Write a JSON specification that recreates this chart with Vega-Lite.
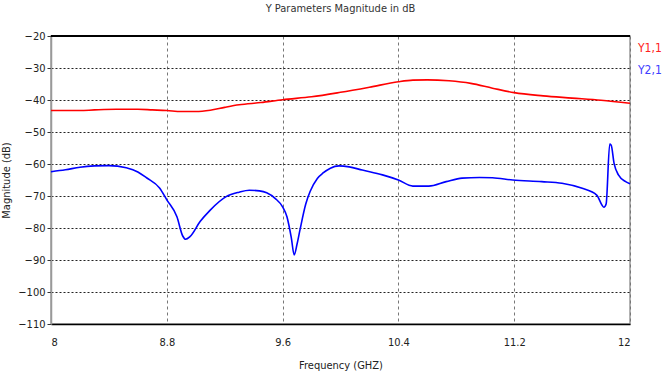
{
  "$schema": "https://vega.github.io/schema/vega-lite/v6.json",
  "autosize": "none",
  "width": 579,
  "height": 288,
  "padding": {"left": 51, "top": 36, "right": 42, "bottom": 50},
  "background": "white",
  "config": {
    "font": "DejaVu Sans Condensed",
    "view": {"stroke": "#999", "strokeWidth": 1.5},
    "axis": {"labelFont": "DejaVu Sans Condensed", "titleFont": "DejaVu Sans Condensed", "labelColor": "#222", "titleColor": "#222", "labelFontSize": 11, "titleFontSize": 11, "titleFontWeight": "normal", "labelOverlap": false}
  },
  "title": {"text": "Y Parameters Magnitude in dB", "fontSize": 11, "fontWeight": "normal", "color": "#333", "offset": 16, "anchor": "middle", "font": "DejaVu Sans Condensed"},
  "data": {"values": [
    {"f": 8.0, "db": -43.3, "s": "Y1,1"},
    {"f": 8.2, "db": -43.3, "s": "Y1,1"},
    {"f": 8.3, "db": -43.1, "s": "Y1,1"},
    {"f": 8.45, "db": -42.9, "s": "Y1,1"},
    {"f": 8.6, "db": -42.9, "s": "Y1,1"},
    {"f": 8.7, "db": -43.1, "s": "Y1,1"},
    {"f": 8.8, "db": -43.3, "s": "Y1,1"},
    {"f": 8.9, "db": -43.6, "s": "Y1,1"},
    {"f": 9.0, "db": -43.6, "s": "Y1,1"},
    {"f": 9.1, "db": -43.2, "s": "Y1,1"},
    {"f": 9.2, "db": -42.3, "s": "Y1,1"},
    {"f": 9.3, "db": -41.5, "s": "Y1,1"},
    {"f": 9.45, "db": -40.8, "s": "Y1,1"},
    {"f": 9.6, "db": -39.9, "s": "Y1,1"},
    {"f": 9.8, "db": -39.0, "s": "Y1,1"},
    {"f": 10.0, "db": -37.6, "s": "Y1,1"},
    {"f": 10.2, "db": -36.0, "s": "Y1,1"},
    {"f": 10.4, "db": -34.3, "s": "Y1,1"},
    {"f": 10.5, "db": -33.8, "s": "Y1,1"},
    {"f": 10.6, "db": -33.7, "s": "Y1,1"},
    {"f": 10.75, "db": -34.0, "s": "Y1,1"},
    {"f": 10.9, "db": -34.8, "s": "Y1,1"},
    {"f": 11.05, "db": -36.3, "s": "Y1,1"},
    {"f": 11.2, "db": -37.7, "s": "Y1,1"},
    {"f": 11.4, "db": -38.7, "s": "Y1,1"},
    {"f": 11.6, "db": -39.4, "s": "Y1,1"},
    {"f": 11.8, "db": -40.1, "s": "Y1,1"},
    {"f": 12.0, "db": -41.0, "s": "Y1,1"},
    {"f": 8.0, "db": -62.4, "s": "Y2,1"},
    {"f": 8.1, "db": -61.8, "s": "Y2,1"},
    {"f": 8.2, "db": -61.0, "s": "Y2,1"},
    {"f": 8.3, "db": -60.6, "s": "Y2,1"},
    {"f": 8.4, "db": -60.5, "s": "Y2,1"},
    {"f": 8.52, "db": -61.2, "s": "Y2,1"},
    {"f": 8.6, "db": -62.5, "s": "Y2,1"},
    {"f": 8.66, "db": -64.3, "s": "Y2,1"},
    {"f": 8.75, "db": -67.5, "s": "Y2,1"},
    {"f": 8.8, "db": -71.2, "s": "Y2,1"},
    {"f": 8.87, "db": -76.5, "s": "Y2,1"},
    {"f": 8.91, "db": -82.5, "s": "Y2,1"},
    {"f": 8.93, "db": -83.5, "s": "Y2,1"},
    {"f": 8.96, "db": -82.7, "s": "Y2,1"},
    {"f": 9.03, "db": -78.0, "s": "Y2,1"},
    {"f": 9.1, "db": -74.4, "s": "Y2,1"},
    {"f": 9.21, "db": -70.2, "s": "Y2,1"},
    {"f": 9.3, "db": -68.8, "s": "Y2,1"},
    {"f": 9.37, "db": -68.2, "s": "Y2,1"},
    {"f": 9.44, "db": -68.4, "s": "Y2,1"},
    {"f": 9.49, "db": -69.0, "s": "Y2,1"},
    {"f": 9.55, "db": -70.8, "s": "Y2,1"},
    {"f": 9.6, "db": -73.4, "s": "Y2,1"},
    {"f": 9.63, "db": -76.5, "s": "Y2,1"},
    {"f": 9.66, "db": -83.0, "s": "Y2,1"},
    {"f": 9.68, "db": -88.4, "s": "Y2,1"},
    {"f": 9.7, "db": -85.0, "s": "Y2,1"},
    {"f": 9.72, "db": -80.6, "s": "Y2,1"},
    {"f": 9.76, "db": -72.5, "s": "Y2,1"},
    {"f": 9.79, "db": -68.6, "s": "Y2,1"},
    {"f": 9.84, "db": -64.5, "s": "Y2,1"},
    {"f": 9.88, "db": -62.8, "s": "Y2,1"},
    {"f": 9.93, "db": -61.3, "s": "Y2,1"},
    {"f": 9.99, "db": -60.6, "s": "Y2,1"},
    {"f": 10.06, "db": -60.9, "s": "Y2,1"},
    {"f": 10.15, "db": -61.9, "s": "Y2,1"},
    {"f": 10.29, "db": -63.4, "s": "Y2,1"},
    {"f": 10.4, "db": -65.0, "s": "Y2,1"},
    {"f": 10.5, "db": -66.9, "s": "Y2,1"},
    {"f": 10.61, "db": -66.9, "s": "Y2,1"},
    {"f": 10.73, "db": -65.5, "s": "Y2,1"},
    {"f": 10.84, "db": -64.4, "s": "Y2,1"},
    {"f": 10.96, "db": -64.2, "s": "Y2,1"},
    {"f": 11.05, "db": -64.3, "s": "Y2,1"},
    {"f": 11.19, "db": -65.0, "s": "Y2,1"},
    {"f": 11.39, "db": -65.5, "s": "Y2,1"},
    {"f": 11.53, "db": -66.0, "s": "Y2,1"},
    {"f": 11.67, "db": -67.6, "s": "Y2,1"},
    {"f": 11.77, "db": -69.7, "s": "Y2,1"},
    {"f": 11.82, "db": -73.5, "s": "Y2,1"},
    {"f": 11.835, "db": -72.5, "s": "Y2,1"},
    {"f": 11.86, "db": -53.8, "s": "Y2,1"},
    {"f": 11.87, "db": -54.1, "s": "Y2,1"},
    {"f": 11.89, "db": -59.8, "s": "Y2,1"},
    {"f": 11.92, "db": -63.4, "s": "Y2,1"},
    {"f": 11.97, "db": -65.5, "s": "Y2,1"},
    {"f": 12.0, "db": -66.2, "s": "Y2,1"}
  ]},
  "layer": [
    {
      "mark": {"type": "line", "strokeWidth": 1.6, "interpolate": "monotone"},
      "encoding": {
        "x": {"field": "f", "type": "quantitative", "scale": {"domain": [8, 12], "nice": false, "zero": false},
          "axis": {"title": "Frequency (GHZ)", "values": [8, 8.8, 9.6, 10.4, 11.2, 12], "format": "~g", "grid": true, "gridColor": "#777", "gridDash": [3, 3], "gridWidth": 1, "ticks": false, "labelPadding": 12, "titlePadding": 12, "domainColor": "black", "domainWidth": 1.5}},
        "y": {"field": "db", "type": "quantitative", "scale": {"domain": [-110, -20], "nice": false, "zero": false},
          "axis": {"title": "Magnitude (dB)", "values": [-110, -100, -90, -80, -70, -60, -50, -40, -30, -20], "labelOverlap": false, "labelFlush": false, "grid": true, "gridColor": "#222", "gridDash": [2, 2], "gridWidth": 1, "tickSize": 4, "tickColor": "#333", "labelPadding": 2, "titlePadding": 6, "domainColor": "#999", "domainWidth": 1.5}},
        "color": {"field": "s", "type": "nominal", "scale": {"domain": ["Y1,1", "Y2,1"], "range": ["#ff0000", "#0000ff"]},
          "legend": {"title": null, "orient": "none", "legendX": 575, "legendY": 6, "symbolSize": 0, "symbolStrokeWidth": 0, "symbolOpacity": 0, "labelOffset": 0, "labelFontSize": 12, "labelFont": "DejaVu Sans Condensed", "rowPadding": 10,
            "encode": {"labels": {"update": {"fill": {"signal": "datum.value === 'Y1,1' ? '#ff2020' : '#4040ff'"}}}}}}
      }
    },
    {
      "mark": {"type": "rule", "color": "black", "strokeWidth": 1.5},
      "encoding": {"y": {"datum": -20, "type": "quantitative",
        "axis": {"title": "Magnitude (dB)", "values": [-110, -100, -90, -80, -70, -60, -50, -40, -30, -20], "labelOverlap": false, "labelFlush": false, "grid": true, "gridColor": "#222", "gridDash": [2, 2], "gridWidth": 1, "tickSize": 4, "tickColor": "#333", "labelPadding": 2, "titlePadding": 6, "domainColor": "#999", "domainWidth": 1.5}}}
    }
  ]
}
